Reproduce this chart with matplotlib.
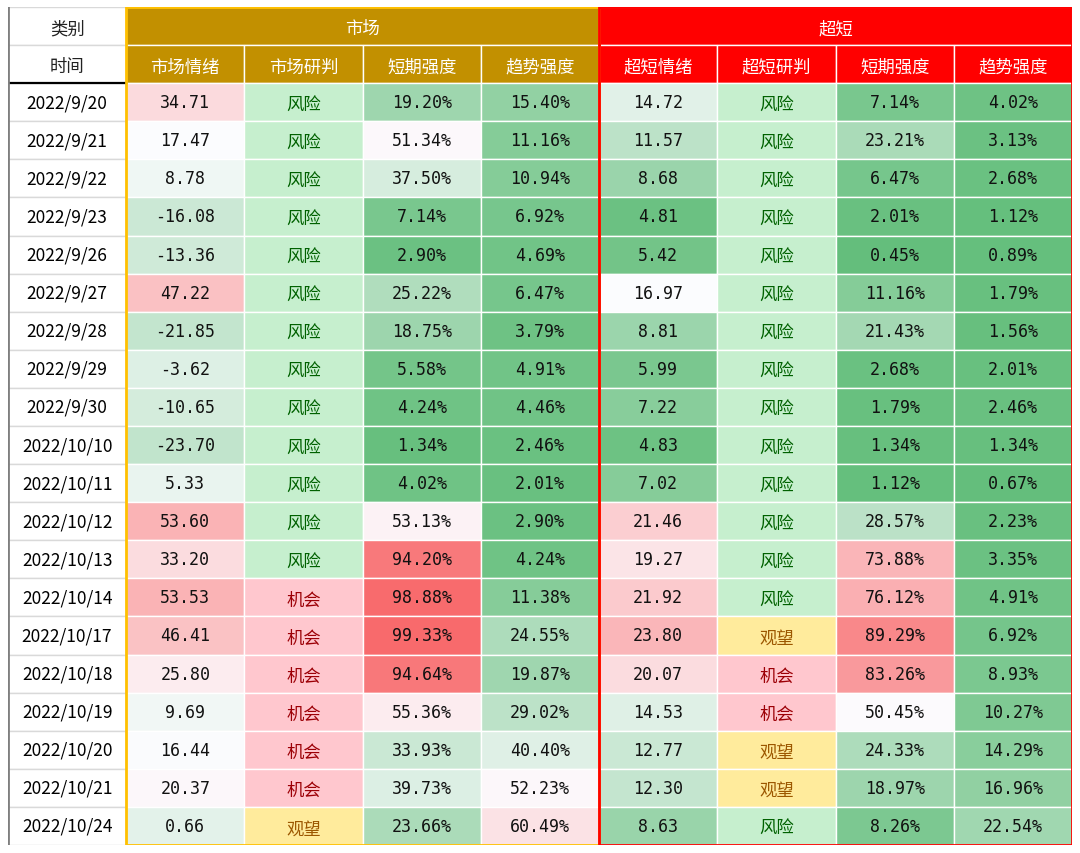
import matplotlib
matplotlib.use("Agg")
import matplotlib.pyplot as plt
from matplotlib.patches import Rectangle
from matplotlib.colors import LinearSegmentedColormap, TwoSlopeNorm

plt.rcParams['font.family'] = ['Noto Sans CJK SC', 'DejaVu Sans']

# 数据
dates = ["2022/9/20", "2022/9/21", "2022/9/22", "2022/9/23", "2022/9/26", "2022/9/27",
         "2022/9/28", "2022/9/29", "2022/9/30", "2022/10/10", "2022/10/11", "2022/10/12",
         "2022/10/13", "2022/10/14", "2022/10/17", "2022/10/18", "2022/10/19", "2022/10/20",
         "2022/10/21", "2022/10/24"]
mkt_mood = [34.71, 17.47, 8.78, -16.08, -13.36, 47.22, -21.85, -3.62, -10.65, -23.70,
            5.33, 53.60, 33.20, 53.53, 46.41, 25.80, 9.69, 16.44, 20.37, 0.66]
mkt_judge = ["风险"] * 13 + ["机会"] * 6 + ["观望"]
mkt_short = [19.20, 51.34, 37.50, 7.14, 2.90, 25.22, 18.75, 5.58, 4.24, 1.34,
             4.02, 53.13, 94.20, 98.88, 99.33, 94.64, 55.36, 33.93, 39.73, 23.66]
mkt_trend = [15.40, 11.16, 10.94, 6.92, 4.69, 6.47, 3.79, 4.91, 4.46, 2.46,
             2.01, 2.90, 4.24, 11.38, 24.55, 19.87, 29.02, 40.40, 52.23, 60.49]
ult_mood = [14.72, 11.57, 8.68, 4.81, 5.42, 16.97, 8.81, 5.99, 7.22, 4.83,
            7.02, 21.46, 19.27, 21.92, 23.80, 20.07, 14.53, 12.77, 12.30, 8.63]
ult_judge = ["风险"] * 14 + ["观望", "机会", "机会", "观望", "观望", "风险"]
ult_short = [7.14, 23.21, 6.47, 2.01, 0.45, 11.16, 21.43, 2.68, 1.79, 1.34,
             1.12, 28.57, 73.88, 76.12, 89.29, 83.26, 50.45, 24.33, 18.97, 8.26]
ult_trend = [4.02, 3.13, 2.68, 1.12, 0.89, 1.79, 1.56, 2.01, 2.46, 1.34,
             0.67, 2.23, 3.35, 4.91, 6.92, 8.93, 10.27, 14.29, 16.96, 22.54]

groups = ["市场", "超短"]
sub_headers = ["市场情绪", "市场研判", "短期强度", "趋势强度",
               "超短情绪", "超短研判", "短期强度", "趋势强度"]

# 色阶 (绿-白-红)
cmap = LinearSegmentedColormap.from_list("gwr", ["#63BE7B", "#FCFCFF", "#F8696B"])
judge_style = {"风险": ("#C6EFCE", "#006100"),
               "机会": ("#FFC7CE", "#9C0006"),
               "观望": ("#FFEB9C", "#9C5700")}

# (值, 类型, 归一化)
columns = [
    (mkt_mood, "num", TwoSlopeNorm(vcenter=18, vmin=-90, vmax=90)),
    (mkt_judge, "judge", None),
    (mkt_short, "pct", TwoSlopeNorm(vcenter=50, vmin=0, vmax=100)),
    (mkt_trend, "pct", TwoSlopeNorm(vcenter=50, vmin=0, vmax=110)),
    (ult_mood, "num", TwoSlopeNorm(vcenter=17, vmin=4, vmax=31.5)),
    (ult_judge, "judge", None),
    (ult_short, "pct", TwoSlopeNorm(vcenter=50, vmin=0, vmax=100)),
    (ult_trend, "pct", TwoSlopeNorm(vcenter=56, vmin=0, vmax=100)),
]

n = len(dates)
fig = plt.figure(figsize=(10.8, 8.54), dpi=100)
ax = fig.add_axes([8 / 1080, 8 / 854, 1064 / 1080, 838 / 854])
ax.set_xlim(0, 9)
ax.set_ylim(n + 2, 0)
ax.axis("off")

FS = 12.5
DY = 0.06  # 中文字形略偏上，下移一点
num_font = ['DejaVu Sans Mono', 'Noto Sans CJK SC']

# 表头 - 日期列
for r, lab in enumerate(["类别", "时间"]):
    ax.add_patch(Rectangle((0, r), 1, 1, facecolor="white", edgecolor="#D9D9D9", lw=1))
    ax.text(0.5, r + 0.5 + DY, lab, ha="center", va="center", fontsize=FS, color="#222222")

# 表头 - 分组
head_colors = ["#C29000", "#FF0000"]
for g, (name, hc) in enumerate(zip(groups, head_colors)):
    x0 = 1 + 4 * g
    ax.add_patch(Rectangle((x0, 0), 4, 1, facecolor=hc, edgecolor="#F2F2F2", lw=1))
    ax.text(x0 + 2, 0.5 + DY, name, ha="center", va="center", fontsize=FS, color="white")
    for k in range(4):
        ax.add_patch(Rectangle((x0 + k, 1), 1, 1, facecolor=hc, edgecolor="white", lw=1))
        ax.text(x0 + k + 0.5, 1.5 + DY, sub_headers[4 * g + k], ha="center", va="center",
                fontsize=FS, color="white")

# 数据行
for i, d in enumerate(dates):
    r = i + 2
    ax.add_patch(Rectangle((0, r), 1, 1, facecolor="white", edgecolor="#D9D9D9", lw=1))
    ax.text(0.5, r + 0.5, d, ha="center", va="center", fontsize=FS, color="black")
    for j, (vals, kind, norm) in enumerate(columns):
        c = j + 1
        v = vals[i]
        ax.add_patch(Rectangle((c, r), 1, 1, edgecolor="white", lw=1,
                               facecolor=judge_style[v][0] if kind == "judge" else cmap(norm(v))))
        if kind == "judge":
            ax.text(c + 0.5, r + 0.5 + DY, v, ha="center", va="center", fontsize=FS,
                    color=judge_style[v][1])
        else:
            txt = f"{v:.2f}%" if kind == "pct" else f"{v:.2f}"
            ax.text(c + 0.5, r + 0.5, txt, ha="center", va="center", fontsize=FS - 0.5,
                    color="#111111", family=num_font)

# 边框
ax.plot([0, 1], [2, 2], color="black", lw=1.6, zorder=5)
ax.plot([0, 0], [0, n + 2], color="#7F7F7F", lw=2, zorder=5)
ax.add_patch(Rectangle((1, 0), 4, n + 2, fill=False, edgecolor="#FFC000", lw=2, zorder=6))
ax.add_patch(Rectangle((5, 0), 4, n + 2, fill=False, edgecolor="#FF0000", lw=2, zorder=7))

fig.savefig("out.png", dpi=100)
